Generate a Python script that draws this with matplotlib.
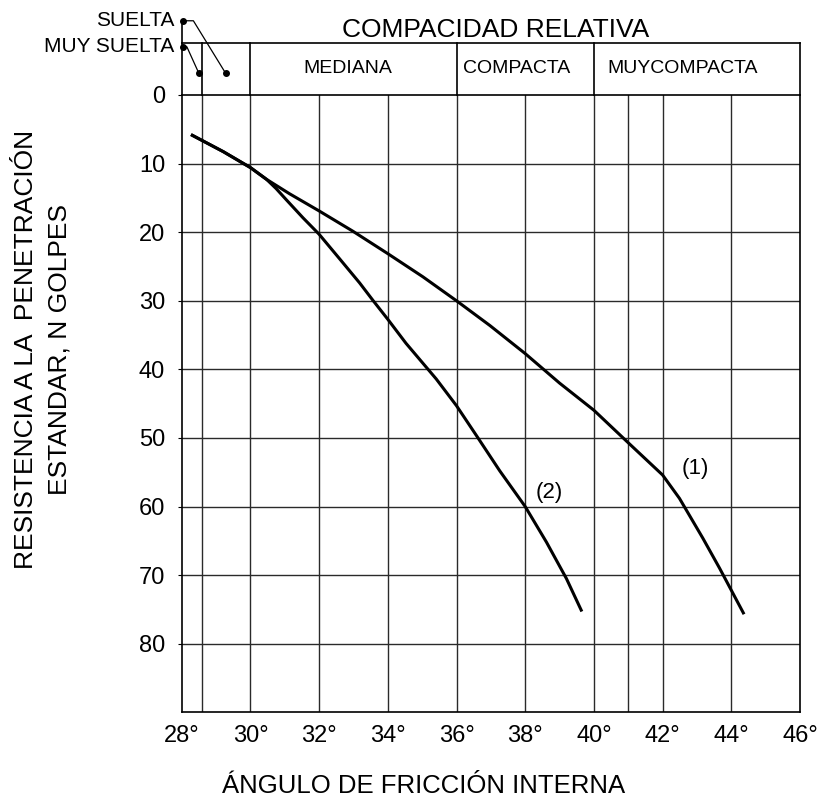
import matplotlib
matplotlib.use("Agg")
import matplotlib.pyplot as plt

plt.rcParams['font.family'] = ['Liberation Sans', 'DejaVu Sans']

# curve (1): angle vs N
curve1_x = [28.31, 29.21, 30.0, 30.47, 31.14, 32.0, 32.98, 34.0, 35.02,
            36.0, 36.97, 38.0, 39.0, 40.0, 41.0, 42.0, 42.49, 43.17,
            43.66, 44.0, 44.35]
curve1_y = [5.88, 8.26, 10.58, 12.3, 14.4, 16.9, 19.85, 23.13, 26.5,
            30.0, 33.6, 37.7, 42.0, 45.96, 50.7, 55.4, 58.8, 64.6,
            69.0, 72.2, 75.5]

# curve (2)
curve2_x = [28.31, 29.21, 30.0, 30.47, 30.75, 31.05, 31.53, 32.0, 32.6,
            33.18, 33.57, 34.0, 34.53, 35.41, 36.0, 36.6, 37.26, 38.0,
            38.62, 39.2, 39.63]
curve2_y = [5.88, 8.26, 10.58, 12.3, 13.65, 15.3, 17.9, 20.3, 23.9,
            27.4, 29.96, 32.7, 36.2, 41.4, 45.3, 49.8, 54.8, 60.0,
            65.2, 70.5, 75.1]

x_ticks = [28, 30, 32, 34, 36, 38, 40, 42, 44, 46]
y_ticks = [0, 10, 20, 30, 40, 50, 60, 70, 80]
grid_x = [28.6, 30, 32, 34, 36, 38, 40, 41, 42, 44]
grid_y = [10, 20, 30, 40, 50, 60, 70, 80]

# header band: compactness classes
band_edges = [28, 28.6, 30, 36, 40, 46]
band_names = ['MEDIANA', 'COMPACTA', 'MUYCOMPACTA']
band_label_x = [32.83, 37.75, 42.58]

fig = plt.figure(figsize=(8.17, 8.05), dpi=100)
ax = fig.add_axes([0.2224, 0.1151, 0.7568, 0.7669])
ax.set_xlim(28, 46)
ax.set_ylim(90, 0)

# grid
for gx in grid_x:
    ax.axvline(gx, color='#2a2a2a', lw=1.0, zorder=1)
for gy in grid_y:
    ax.axhline(gy, color='#2a2a2a', lw=1.0, zorder=1)

# curves
ax.plot(curve1_x, curve1_y, color='black', lw=2.2, zorder=3,
        solid_joinstyle='round')
ax.plot(curve2_x, curve2_y, color='black', lw=2.2, zorder=3,
        solid_joinstyle='round')
ax.text(42.96, 54.5, '(1)', fontsize=16, ha='center', va='center')
ax.text(38.69, 58.0, '(2)', fontsize=16, ha='center', va='center')

# ticks
ax.set_xticks(x_ticks)
ax.set_xticklabels([f'{t}°' for t in x_ticks], fontsize=17)
ax.set_yticks(y_ticks)
ax.set_yticklabels([str(t) for t in y_ticks], fontsize=17)
ax.tick_params(axis='x', length=0, pad=9)
ax.tick_params(axis='y', length=3, pad=9)
for s in ax.spines.values():
    s.set_color('black')
    s.set_linewidth(1.2)

# header band above the plot
top = -7.52
kw = dict(color='black', lw=1.2, clip_on=False, zorder=4)
ax.plot([28, 46], [top, top], **kw)
for ex in band_edges:
    ax.plot([ex, ex], [top, 0], **kw)
ax.plot([28, 28], [-10.82, top], **kw)
for name, lx in zip(band_names, band_label_x):
    ax.text(lx, -3.93, name, fontsize=14, ha='center', va='center')
ax.text(37.15, -9.5, 'COMPACIDAD RELATIVA', fontsize=19,
        ha='center', va='center')

# loose / very loose leaders
thin = dict(color='black', lw=0.9, clip_on=False, zorder=4)
ax.plot([28.03, 28.34, 29.28], [-10.82, -10.82, -3.16], **thin)
ax.plot([28.03, 28.15, 28.5], [-7.03, -7.03, -3.16], **thin)
ax.plot([28.03, 29.28, 28.03, 28.5], [-10.82, -3.16, -7.03, -3.16],
        'o', color='black', ms=4, clip_on=False, zorder=5)
ax.text(27.78, -10.82, 'SUELTA', fontsize=15, ha='right', va='center')
ax.text(27.78, -7.03, 'MUY SUELTA', fontsize=15, ha='right', va='center')

# axis titles
fig.text(0.518, 1 - 786 / 805, 'ÁNGULO DE FRICCIÓN INTERNA', fontsize=18.5,
         ha='center', va='center')
fig.text(43 / 817, 1 - 349.5 / 805,
         'RESISTENCIA A LA  PENETRACIÓN\nESTANDAR, N GOLPES',
         fontsize=19, rotation=90, ha='center', va='center',
         multialignment='center', linespacing=1.5)

fig.savefig('out.png', dpi=100)
